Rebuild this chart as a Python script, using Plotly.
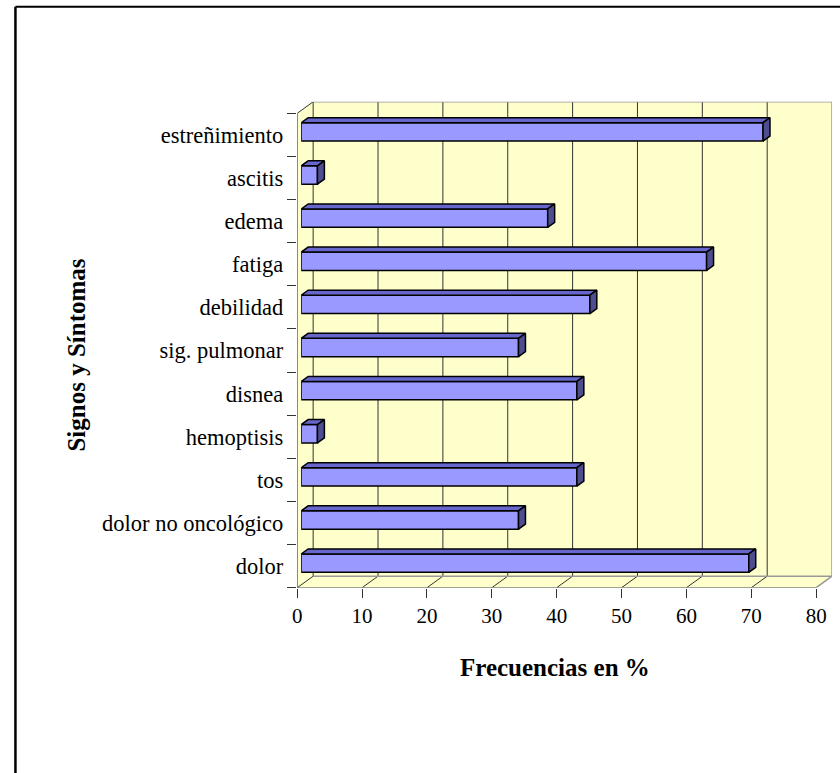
import plotly.graph_objects as go

# ---- data ----
categorias = ["dolor", "dolor no oncológico", "tos", "hemoptisis", "disnea",
              "sig. pulmonar", "debilidad", "fatiga", "edema", "ascitis",
              "estreñimiento"]
frecuencias = [69, 33.5, 42.5, 2.5, 42.5, 33.5, 44.5, 62.5, 38, 2.5, 71.2]
x_ticks = [0, 10, 20, 30, 40, 50, 60, 70, 80]

# ---- geometry of the oblique 3D box (pixels) ----
W, H = 840, 773
X0_PX, XMAX_PX = 294, 816          # front floor edge: value 0 and value 80
Y_BOT_PX, Y_TOP_PX = 587.7, 113.3  # front left edge: bottom and top
DEPTH_PX = (16, 11.5)              # shift of the back wall
BAR_OFF_PX = (4, 3)                # shift of the bars' front faces
BAR_DEPTH_PX = (7, 5)              # thickness of the bars in depth
BAR_WIDTH = 0.425

XMAX = x_ticks[-1]
n = len(categorias)
px_x = (XMAX_PX - X0_PX) / XMAX
px_y = (Y_BOT_PX - Y_TOP_PX) / n
DXU, DYU = DEPTH_PX[0] / px_x, DEPTH_PX[1] / px_y
BDX, BDY = BAR_DEPTH_PX[0] / px_x, BAR_DEPTH_PX[1] / px_y
x_range = [0, XMAX + DXU]
y_range = [-0.5, n - 0.5 + DYU]


def dom_x(left_px):
    return [left_px / W, (left_px + px_x * (x_range[1] - x_range[0])) / W]


def dom_y(bottom_px):
    return [1 - bottom_px / H, 1 - (bottom_px - px_y * (y_range[1] - y_range[0])) / H]


FONT = "Liberation Serif, Times New Roman, serif"
WALL = "#FFFFCC"
DARK = "#333333"
GREY = "#999999"

fig = go.Figure()

# ---- bars (front face) on the shifted plane ----
ypos = list(range(n))
fig.add_trace(go.Bar(
    x=frecuencias, y=ypos, orientation="h", width=BAR_WIDTH,
    marker=dict(color="#9999FF", line=dict(color="black", width=1.5)),
    xaxis="x2", yaxis="y2", showlegend=False, hoverinfo="x",
))

# top and side faces of each bar
h = BAR_WIDTH / 2
for i, v in enumerate(frecuencias):
    top_x = [0, v, v + BDX, BDX, 0]
    top_y = [i + h, i + h, i + h + BDY, i + h + BDY, i + h]
    fig.add_trace(go.Scatter(
        x=top_x, y=top_y, mode="lines", fill="toself", fillcolor="#6666CC",
        line=dict(color="black", width=1.5), xaxis="x2", yaxis="y2",
        showlegend=False, hoverinfo="skip"))
    side_x = [v, v, v + BDX, v + BDX, v]
    side_y = [i - h, i + h, i + h + BDY, i - h + BDY, i - h]
    fig.add_trace(go.Scatter(
        x=side_x, y=side_y, mode="lines", fill="toself", fillcolor="#4D4D8F",
        line=dict(color="black", width=1.5), xaxis="x2", yaxis="y2",
        showlegend=False, hoverinfo="skip"))

# invisible trace that carries the category labels of the front axis
fig.add_trace(go.Scatter(
    x=[0] * n, y=categorias, mode="markers", marker=dict(opacity=0, size=1),
    xaxis="x3", yaxis="y3", showlegend=False, hoverinfo="skip"))

# ---- walls, floor and gridlines (front-plane coordinates, axis x/y) ----
yb, yt = -0.5, n - 0.5
shapes = []


def poly(pts, color):
    path = "M " + " L ".join(f"{a},{b}" for a, b in pts) + " Z"
    return dict(type="path", path=path, xref="x", yref="y", layer="below",
                fillcolor=color, line=dict(width=0))


def seg(p, q, color, width=1):
    return dict(type="line", xref="x", yref="y", layer="below",
                x0=p[0], y0=p[1], x1=q[0], y1=q[1],
                line=dict(color=color, width=width))


shapes.append(poly([(DXU, yb + DYU), (XMAX + DXU, yb + DYU),
                    (XMAX + DXU, yt + DYU), (DXU, yt + DYU)], WALL))
shapes.append(poly([(0, yb), (XMAX, yb), (XMAX + DXU, yb + DYU), (DXU, yb + DYU)], WALL))
shapes.append(poly([(0, yb), (0, yt), (DXU, yt + DYU), (DXU, yb + DYU)], WALL))

for k in x_ticks:
    c = GREY if k == XMAX else DARK
    w = 1.5 if k == XMAX else 1
    shapes.append(seg((k + DXU, yb + DYU), (k + DXU, yt + DYU), c, w))
    shapes.append(seg((k, yb), (k + DXU, yb + DYU), c, w))
shapes.append(seg((DXU, yt + DYU), (XMAX + DXU, yt + DYU), GREY, 1.5))
shapes.append(seg((DXU, yb + DYU), (XMAX + DXU, yb + DYU), GREY, 1.5))
shapes.append(seg((0, yt), (DXU, yt + DYU), DARK, 1))
shapes.append(seg((0, yb), (0, yt), DARK, 1))
shapes.append(seg((0, yb), (XMAX, yb), "#808080", 1.5))

# outer frame of the chart area
fx, fy = 10.5 / W, 1 - 6.7 / H
shapes.append(dict(type="line", xref="paper", yref="paper", x0=fx, x1=fx,
                   y0=-0.05, y1=fy, line=dict(color="black", width=2.5)))
shapes.append(dict(type="line", xref="paper", yref="paper", x0=fx, x1=1.05,
                   y0=fy, y1=fy, line=dict(color="black", width=2)))

hidden = dict(visible=False, fixedrange=True)
fig.update_layout(
    width=W, height=H,
    margin=dict(l=0, r=0, t=0, b=0),
    paper_bgcolor="white", plot_bgcolor="rgba(0,0,0,0)",
    font=dict(family=FONT, color="black"),
    shapes=shapes,
    xaxis=dict(hidden, domain=dom_x(X0_PX), range=x_range, anchor="y"),
    yaxis=dict(hidden, domain=dom_y(Y_BOT_PX), range=y_range, anchor="x"),
    xaxis2=dict(hidden, domain=dom_x(X0_PX + BAR_OFF_PX[0]), range=x_range, anchor="y2"),
    yaxis2=dict(hidden, domain=dom_y(Y_BOT_PX - BAR_OFF_PX[1]), range=y_range, anchor="x2"),
    xaxis3=dict(domain=dom_x(X0_PX), range=x_range, anchor="y3",
                tickmode="array", tickvals=x_ticks, ticks="outside", ticklen=9,
                tickcolor=DARK, showgrid=False, zeroline=False, showline=False,
                tickfont=dict(size=21, family=FONT), fixedrange=True),
    yaxis3=dict(domain=dom_y(Y_BOT_PX), range=y_range, anchor="x3",
                type="category", categoryorder="array", categoryarray=categorias,
                tickson="boundaries", ticks="outside", ticklen=9, tickcolor=DARK,
                ticklabelstandoff=13,
                showgrid=False, zeroline=False, showline=False,
                tickfont=dict(size=22.5, family=FONT), fixedrange=True),
    annotations=[
        dict(text="<b>Frecuencias en %</b>", xref="paper", yref="paper",
             x=553 / W, y=1 - 667 / H, showarrow=False,
             font=dict(size=25, family=FONT), xanchor="center", yanchor="middle"),
        dict(text="<b>Signos y Síntomas</b>", xref="paper", yref="paper",
             x=71 / W, y=1 - 355 / H, showarrow=False, textangle=-90,
             font=dict(size=25, family=FONT), xanchor="center", yanchor="middle"),
    ],
)

fig.write_html("out.html")
